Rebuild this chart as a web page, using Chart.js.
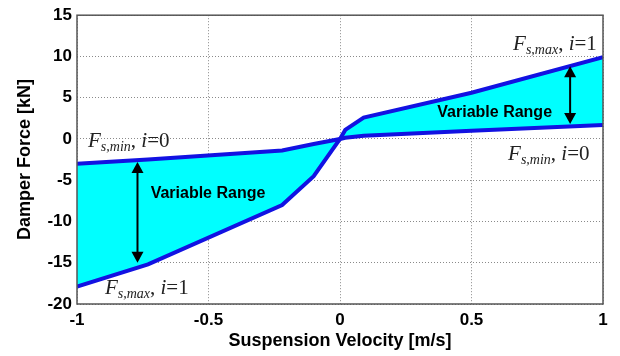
<!DOCTYPE html>
<html>
<head>
<meta charset="utf-8">
<script src="https://cdn.jsdelivr.net/npm/chart.js@4.4.1/dist/chart.umd.min.js"></script>
<style>
  html, body { margin: 0; padding: 0; background: #fff; }
  #chart { display: block; }
</style>
</head>
<body>
<canvas id="chart" width="620" height="356"></canvas>
<script>
const velocity = [-1, -0.73, -0.22, -0.1, 0, 0.02, 0.09, 0.5, 1];
const forceMin = [-3.0, -2.5, -1.4, -0.6, 0, 0.15, 0.4, 1.0, 1.7];
const forceMax = [-17.9, -15.2, -8.0, -4.5, 0, 1.1, 2.6, 5.6, 9.9];
const xTicks = [-1, -0.5, 0, 0.5, 1];
const yTicks = [15, 10, 5, 0, -5, -10, -15, -20];

const sansFont = "'Liberation Sans', Arial, Helvetica, sans-serif";
const serifFont = "'Liberation Serif', 'Times New Roman', serif";
const lineBlue = '#1212e2';

// label: "F" with subscript, then ", i=N"
function drawForceLabel(ctx, x, y, sub, idx) {
  ctx.save();
  ctx.fillStyle = '#222';
  ctx.textBaseline = 'alphabetic';
  ctx.textAlign = 'left';
  ctx.font = 'italic 21px ' + serifFont;
  ctx.fillText('F', x, y);
  x += ctx.measureText('F').width;
  ctx.font = 'italic 14px ' + serifFont;
  ctx.fillText(sub, x, y + 4);
  x += ctx.measureText(sub).width;
  ctx.font = '21px ' + serifFont;
  ctx.fillText(', ', x, y);
  x += ctx.measureText(', ').width;
  ctx.font = 'italic 21px ' + serifFont;
  ctx.fillText('i', x, y);
  x += ctx.measureText('i').width;
  ctx.font = '21px ' + serifFont;
  ctx.fillText('=' + idx, x, y);
  ctx.restore();
}

function drawDoubleArrow(ctx, x, y1, y2) {
  const head = 11, half = 6;
  ctx.save();
  ctx.strokeStyle = '#000';
  ctx.fillStyle = '#000';
  ctx.lineWidth = 2;
  ctx.beginPath();
  ctx.moveTo(x, y1 + head - 1);
  ctx.lineTo(x, y2 - head + 1);
  ctx.stroke();
  ctx.beginPath();
  ctx.moveTo(x, y1);
  ctx.lineTo(x - half, y1 + head);
  ctx.lineTo(x + half, y1 + head);
  ctx.closePath();
  ctx.fill();
  ctx.beginPath();
  ctx.moveTo(x, y2);
  ctx.lineTo(x - half, y2 - head);
  ctx.lineTo(x + half, y2 - head);
  ctx.closePath();
  ctx.fill();
  ctx.restore();
}

const framePlugin = {
  id: 'frame',
  afterDraw(chart) {
    const { ctx, chartArea: a } = chart;
    ctx.save();
    ctx.strokeStyle = '#555';
    ctx.lineWidth = 1.5;
    ctx.strokeRect(a.left, a.top, a.right - a.left, a.bottom - a.top);
    ctx.restore();
  },
};

const annotationPlugin = {
  id: 'annotations',
  afterDatasetsDraw(chart) {
    const { ctx } = chart;
    const xs = chart.scales.x, ys = chart.scales.y;
    const px = v => xs.getPixelForValue(v);
    const py = v => ys.getPixelForValue(v);

    drawDoubleArrow(ctx, px(-0.77), py(-2.8), py(-15.0));
    drawDoubleArrow(ctx, px(0.875), py(8.8), py(1.8));

    ctx.save();
    ctx.fillStyle = '#000';
    ctx.font = 'bold 16px ' + sansFont;
    ctx.textBaseline = 'middle';
    ctx.textAlign = 'left';
    ctx.fillText('Variable Range', px(-0.72), py(-6.6));
    ctx.fillText('Variable Range', px(0.37), py(3.2));
    ctx.restore();

    drawForceLabel(ctx, px(-0.958), py(-1.0), 's,min', 0);
    drawForceLabel(ctx, px(-0.894), py(-18.8), 's,max', 1);
    drawForceLabel(ctx, px(0.658), py(10.8), 's,max', 1);
    drawForceLabel(ctx, px(0.639), py(-2.55), 's,min', 0);
  },
};

new Chart(document.getElementById('chart'), {
  type: 'line',
  data: {
    datasets: [
      {
        label: 'Fs,min, i=0',
        data: velocity.map((v, i) => ({ x: v, y: forceMin[i] })),
        borderColor: lineBlue,
        borderWidth: 4,
        pointRadius: 0,
        tension: 0,
        fill: false,
      },
      {
        label: 'Fs,max, i=1',
        data: velocity.map((v, i) => ({ x: v, y: forceMax[i] })),
        borderColor: lineBlue,
        backgroundColor: '#00ffff',
        borderWidth: 4,
        pointRadius: 0,
        tension: 0,
        fill: 0,
      },
    ],
  },
  options: {
    responsive: false,
    animation: false,
    layout: { padding: { top: 12, right: 17, left: 0, bottom: 0 } },
    plugins: {
      legend: { display: false },
      tooltip: { enabled: false },
      filler: { drawTime: 'beforeDatasetsDraw' },
    },
    scales: {
      x: {
        type: 'linear',
        min: -1,
        max: 1,
        afterFit: scale => { scale.height = 52; },
        afterBuildTicks: scale => { scale.ticks = xTicks.map(value => ({ value })); },
        ticks: {
          color: '#000',
          padding: 6,
          font: { family: sansFont, size: 17, weight: 'bold' },
          callback: value => String(value),
        },
        grid: { color: '#8a8a8a', lineWidth: 1, drawTicks: false },
        border: { display: false, dash: [1, 2] },
        title: {
          display: true,
          text: 'Suspension Velocity [m/s]',
          color: '#000',
          font: { family: sansFont, size: 18, weight: 'bold' },
          padding: { top: 0, bottom: 4 },
        },
      },
      y: {
        min: -20,
        max: 15,
        afterFit: scale => { scale.width = 77; },
        afterBuildTicks: scale => { scale.ticks = yTicks.map(value => ({ value })); },
        ticks: {
          color: '#000',
          padding: 5,
          font: { family: sansFont, size: 17, weight: 'bold' },
          callback: value => String(value),
        },
        grid: { color: '#8a8a8a', lineWidth: 1, drawTicks: false },
        border: { display: false, dash: [1, 2] },
        title: {
          display: true,
          text: 'Damper Force [kN]',
          color: '#000',
          font: { family: sansFont, size: 18, weight: 'bold' },
          padding: { top: 14, bottom: 0 },
        },
      },
    },
  },
  plugins: [framePlugin, annotationPlugin],
});
</script>
</body>
</html>
